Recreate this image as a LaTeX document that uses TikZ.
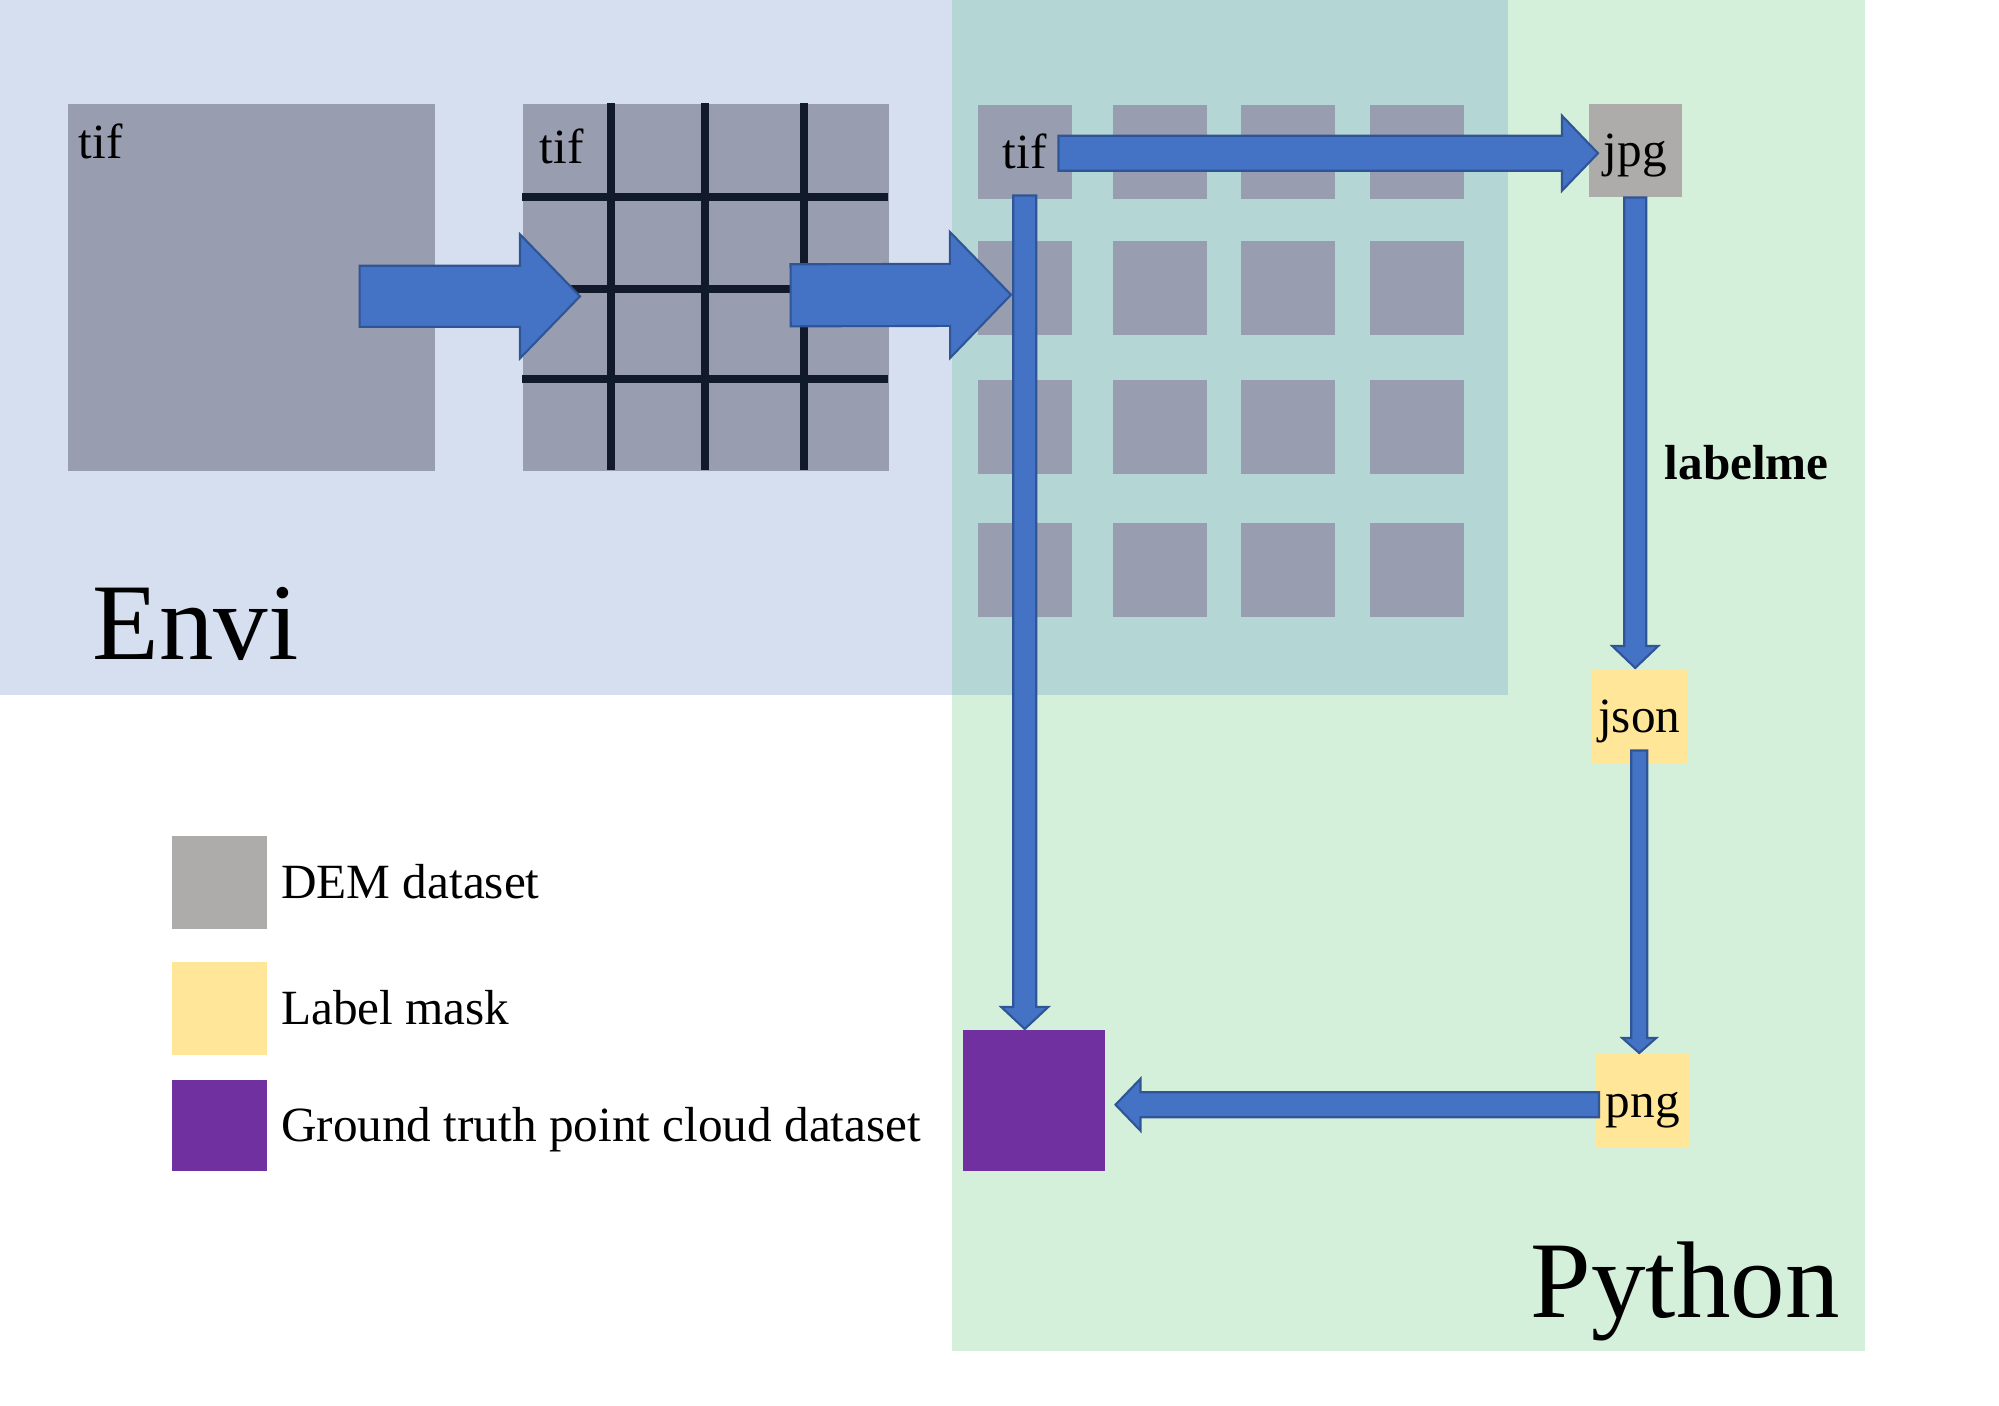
\documentclass[tikz,border=0pt]{standalone}
\usepackage{fontspec}
\setmainfont{Liberation Serif}
\usepackage{tikz}
\usetikzlibrary{calc,positioning}

\definecolor{envibg}{HTML}{D6DFF0}
\definecolor{pybg}{HTML}{D5F0DA}
\definecolor{bothbg}{HTML}{B4D6D5}
\definecolor{tifgrey}{HTML}{989DB0}
\definecolor{demgrey}{HTML}{AEABAB}
\definecolor{maskyellow}{HTML}{FFE699}
\definecolor{gtpurple}{HTML}{7030A0}
\definecolor{arrfill}{HTML}{4472C4}
\definecolor{arredge}{HTML}{2F5597}
\definecolor{gridink}{HTML}{111A2B}

\tikzstyle{tile} = [rectangle, fill=tifgrey, inner sep=0pt, minimum width=0.94cm, minimum height=0.94cm, anchor=north west]
\tikzstyle{lbl} = [inner sep=0pt, text height=9.5pt, text depth=0pt, font=\fontsize{14}{16}\selectfont]
\tikzstyle{bigtxt} = [inner sep=0pt, anchor=base west, font=\fontsize{31}{36}\selectfont]
\tikzstyle{gridln} = [draw=gridink, line width=2.3pt]
\tikzstyle{fat} = [fill=arrfill, draw=arredge, line width=0.6pt, line join=miter]
\tikzstyle{legbox} = [rectangle, inner sep=0pt, minimum width=0.95cm, minimum height=0.93cm, anchor=north west]

% block arrow: from, to, half shaft, half head, head length
\newcommand{\fatarrow}[5]{%
  \coordinate (fa-head) at ($(#2)!#5!(#1)$);
  \path[fat] ($(#1)!#3!90:(#2)$) -- ($(fa-head)!#3!90:(#2)$) -- ($(fa-head)!#4!90:(#2)$) -- (#2)
    -- ($(fa-head)!#4!-90:(#2)$) -- ($(fa-head)!#3!-90:(#2)$) -- ($(#1)!#3!-90:(#2)$) -- cycle;}

\begin{document}
\begin{tikzpicture}[x=0.01cm, y=-0.01cm]
        \useasboundingbox (0,0) rectangle (1999,1406);
        \fill[white] (0,0) rectangle (1999,1406);

        % Envi and Python areas
        \fill[envibg] (0,0) rectangle (1508,695);
        \fill[pybg] (952,0) rectangle (1865,1351);
        \fill[bothbg] (952,0) rectangle (1508,695);

        \node[tile, minimum width=3.67cm, minimum height=3.67cm] (whole) at (67,103) {};
        \node[tile, minimum width=3.66cm, minimum height=3.67cm] (split) at (522,103) {};
        \node[lbl, anchor=base west] (tifa) at ($(whole.north west)+(11,55)$) {tif};
        \node[lbl, anchor=base west] (tifb) at ($(split.north west)+(17,60)$) {tif};
        \foreach \x in {611,705,804} \draw[gridln] (\x,103) -- (\x,470);
        \foreach \y in {197,289,379} \draw[gridln] (522,\y) -- (888,\y);

        \foreach \c/\x in {1/977,2/1112,3/1240,4/1369}
          \foreach \r/\y in {1/104,2/240,3/379,4/522}
            \node[tile] (t\r\c) at (\x,\y) {};
        \node[lbl] (tifc) at (t11) {tif};

        \node[tile, lbl, fill=demgrey, minimum width=0.93cm, minimum height=0.93cm] (jpg) at (1588,103) {jpg};
        \node[tile, lbl, fill=maskyellow, minimum width=0.95cm] (json) at (1591,668) {json};
        \node[tile, lbl, fill=maskyellow] (png) at (1595,1053) {png};
        \node[tile, fill=gtpurple, minimum width=1.42cm, minimum height=1.41cm] (gt) at (962,1029) {};
        \node[lbl, font=\bfseries\fontsize{14}{16}\selectfont, anchor=base west] (labelme) at (1664,479) {labelme};

        \node[bigtxt] (envi) at (92,659) {Envi};
        \node[bigtxt] (python) at (1530,1317) {Python};

        % legend
        \node[legbox, fill=demgrey] (lg1) at (171,835) {};
        \node[legbox, fill=maskyellow] (lg2) at (171,961) {};
        \node[legbox, fill=gtpurple, minimum height=0.91cm] (lg3) at (171,1079) {};
        \node[lbl, right=0.13cm of lg1] (lt1) {DEM dataset};
        \node[lbl, right=0.13cm of lg2] (lt2) {Label mask};
        \node[lbl, right=0.13cm of lg3] (lt3) {Ground truth point cloud dataset};

        % arrows
        \coordinate (a1s) at ($(whole.east)+(-76,9)$);
        \coordinate (a1e) at ($(split.west)+(58,9)$);
        \fatarrow{a1s}{a1e}{0.305cm}{0.62cm}{0.6cm}
        \coordinate (a2s) at ($(split.east)+(-99,8)$);
        \coordinate (a2e) at ($(t21.west)+(34,7)$);
        \fatarrow{a2s}{a2e}{0.31cm}{0.63cm}{0.61cm}
        \coordinate (a3s) at ($(t11.east)+(-14,1.5)$);
        \coordinate (a3e) at ($(jpg.west)+(10,3)$);
        \fatarrow{a3s}{a3e}{0.175cm}{0.375cm}{0.36cm}
        \coordinate (a4e) at (jpg.south |- json.north);
        \fatarrow{jpg.south}{a4e}{0.11cm}{0.23cm}{0.22cm}
        \coordinate (a5s) at ($(json.south)+(0,-13)$);
        \coordinate (a5e) at (a5s |- png.north);
        \fatarrow{a5s}{a5e}{0.08cm}{0.17cm}{0.15cm}
        \coordinate (a6s) at ($(png.west)+(4,4)$);
        \coordinate (gtr) at (a6s -| gt.east);
        \coordinate (a6e) at ($(gtr)+(10,0)$);
        \fatarrow{a6s}{a6e}{0.125cm}{0.26cm}{0.25cm}
        \coordinate (a7s) at ($(t11.south)+(0,-4)$);
        \coordinate (a7e) at (a7s |- gt.north);
        \fatarrow{a7s}{a7e}{0.115cm}{0.235cm}{0.22cm}
\end{tikzpicture}
\end{document}
